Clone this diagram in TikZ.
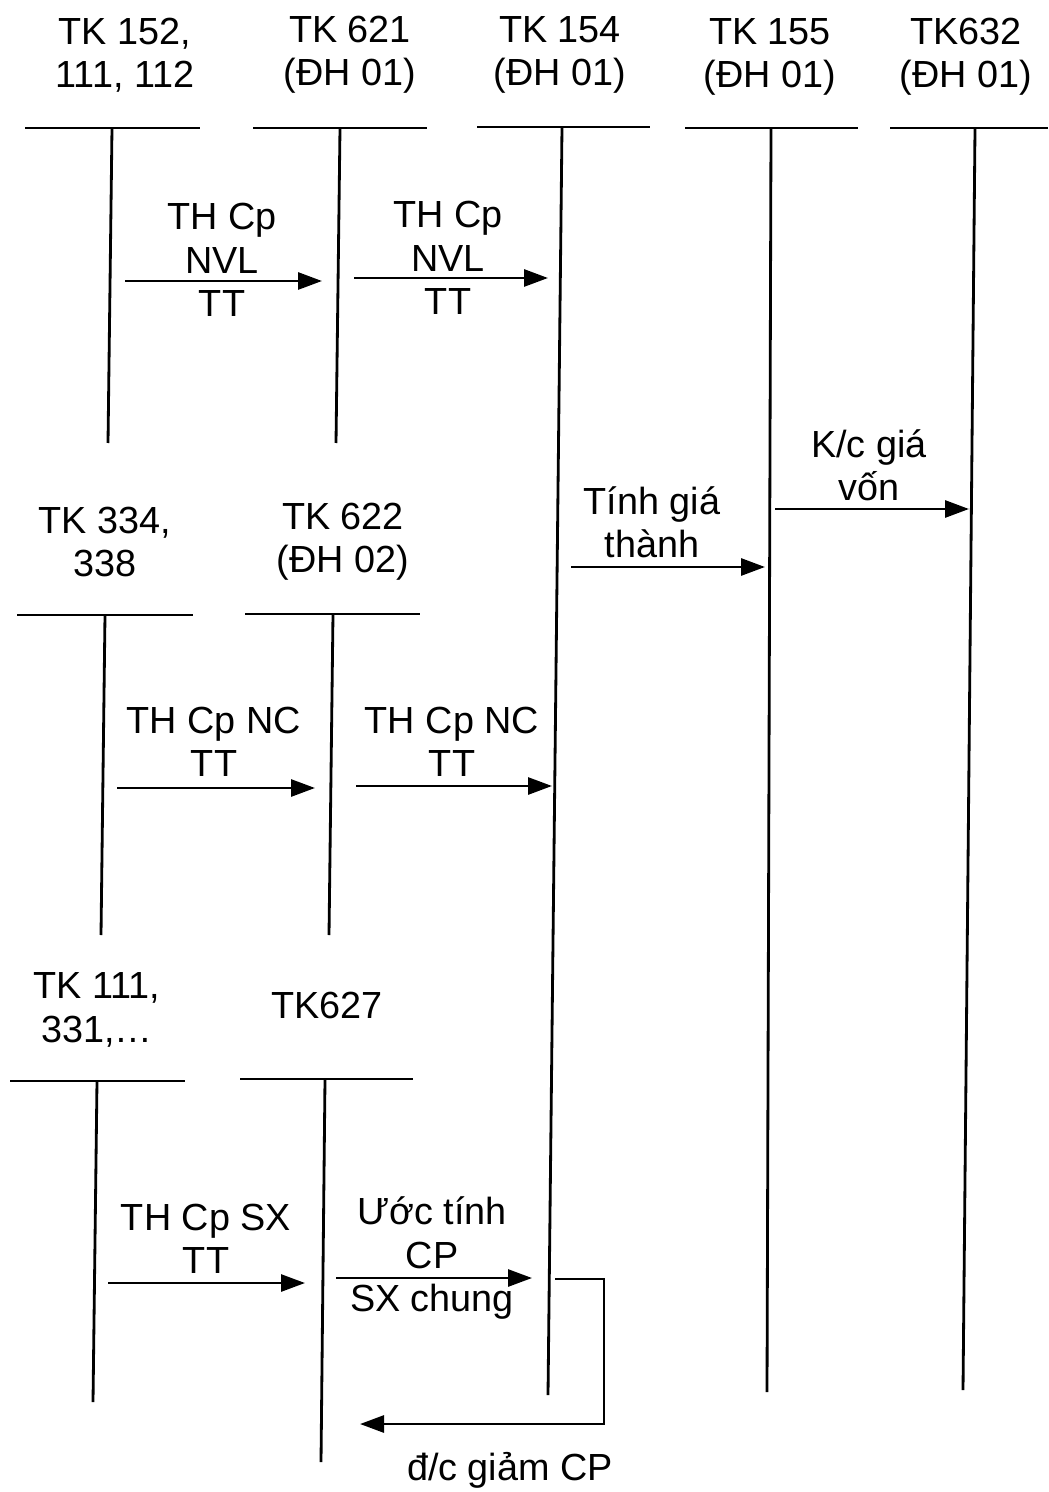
\documentclass[tikz,border=0pt]{standalone}
\usepackage{fontspec}
\setmainfont{Liberation Sans}
\usetikzlibrary{arrows.meta}

\begin{document}
\begin{tikzpicture}[
        x=0.2mm, y=-0.2mm,
        font=\fontsize{21.5}{24.6}\selectfont,
        acc/.style={align=center, inner sep=0pt},
        lbl/.style={align=center, inner sep=0pt},
        tline/.style={line width=1.6pt},
        >={Triangle[length=0.48cm, width=0.34cm]}
      ]
        \useasboundingbox (0,0) rectangle (1048,1492);

        % account headers
        \node[acc] (h1) at (125,55)  {TK 152,\\111, 112};
        \node[acc] (h2) at (350,55)  {TK 621\\(ĐH 01)};
        \node[acc] (h3) at (560,55)  {TK 154\\(ĐH 01)};
        \node[acc] (h4) at (770,57)  {TK 155\\(ĐH 01)};
        \node[acc] (h5) at (966,57)  {TK632\\(ĐH 01)};
        \node[acc] (h6) at (105,542) {TK 334,\\338};
        \node[acc] (h7) at (343,542) {TK 622\\(ĐH 02)};
        \node[acc] (h8) at (97,1010) {TK 111,\\331,…};
        \node[acc] (h9) at (327,1005) {TK627};

        % T accounts: left/right/line y/top x/bottom x/bottom y
        \foreach \l/\r/\y/\vt/\vb/\yb in {
            25/200/128/112/108/443, 253/427/128/340/336/443,
            477/650/127/562/548/1395, 685/858/128/771/767/1392,
            890/1048/128/975/963/1390,
            17/193/615/105/101/935, 245/420/614/333/329/935,
            10/185/1081/97/93/1402, 240/413/1079/325/321/1462}{
          \draw[tline] (\l,\y) -- (\r,\y);
          \draw[tline] (\vt,\y) -- (\vb,\yb);
        }

        % ---- row 1: NVL TT ----
        \coordinate (a1) at (125,281); \coordinate (b1) at (322,281);
        \coordinate (a2) at (354,278); \coordinate (b2) at (548,278);
        \node[lbl] (l1) at (222,260) {TH Cp\\NVL\\TT};
        \node[lbl] (l2) at (448,258) {TH Cp\\NVL\\TT};
        \draw[tline,->] (a1) -- (b1);
        \draw[tline,->] (a2) -- (b2);

        % ---- transfers to 155 and 632 ----
        \coordinate (a5) at (571,567); \coordinate (b5) at (765,567);
        \coordinate (a6) at (775,509); \coordinate (b6) at (969,509);
        \node[lbl] (l5) at (652,522) {Tính giá\\thành};
        \node[lbl] (l6) at (869,465) {K/c giá\\vốn};
        \draw[tline,->] (a5) -- (b5);
        \draw[tline,->] (a6) -- (b6);

        % ---- row 2: NC TT ----
        \coordinate (a3) at (117,788); \coordinate (b3) at (315,788);
        \coordinate (a4) at (356,786); \coordinate (b4) at (552,786);
        \node[lbl] (l3) at (214,742) {TH Cp NC\\TT};
        \node[lbl] (l4) at (452,742) {TH Cp NC\\TT};
        \draw[tline,->] (a3) -- (b3);
        \draw[tline,->] (a4) -- (b4);

        % ---- row 3: SX chung ----
        \coordinate (a7) at (108,1283); \coordinate (b7) at (305,1283);
        \coordinate (a8) at (336,1278); \coordinate (b8) at (532,1278);
        \node[lbl] (l7) at (206,1239) {TH Cp SX\\TT};
        \node[lbl] (l8) at (432,1258) {Ước tính\\CP\\SX chung};
        \draw[tline,->] (a7) -- (b7);
        \draw[tline,->] (a8) -- (b8);

        % adjustment back to 627
        \coordinate (a9) at (555,1279); \coordinate (c9) at (604,1424);
        \coordinate (b9) at (360,1424);
        \draw[tline,->] (a9) -| (c9) -- (b9);
        \node[lbl] (l9) at (510,1470) {đ/c giảm CP};
    \end{tikzpicture}
\end{document}
